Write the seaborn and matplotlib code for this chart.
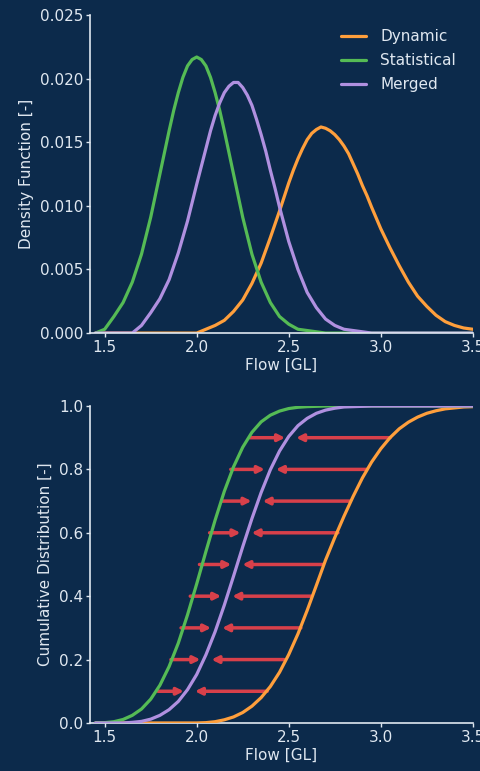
import numpy as np
import pandas as pd
import matplotlib
matplotlib.use("Agg")
import matplotlib.pyplot as plt
import seaborn as sns

# Density curves (finer steps around the peaks)
flow_dynamic = [1.45, 2.00, 2.05, 2.10, 2.15, 2.20, 2.25, 2.30, 2.35, 2.40,
                2.45, 2.475, 2.50, 2.525, 2.55, 2.575, 2.60, 2.625, 2.65, 2.675,
                2.70, 2.725, 2.75, 2.775, 2.80, 2.825, 2.85, 2.875, 2.90, 2.925,
                2.95, 3.00, 3.05, 3.10, 3.15, 3.20, 3.25, 3.30, 3.35, 3.40,
                3.45, 3.50]
pdf_dynamic = [0, 0, 0.0003, 0.0006, 0.0010, 0.0017, 0.0026, 0.0039, 0.0055, 0.0075,
               0.0096, 0.0107, 0.0118, 0.0128, 0.0137, 0.0145, 0.0152, 0.0157, 0.0160, 0.0162,
               0.0161, 0.0159, 0.0156, 0.0152, 0.0147, 0.0141, 0.0133, 0.0125, 0.0116, 0.0108,
               0.0099, 0.0082, 0.0067, 0.0053, 0.0040, 0.0029, 0.0021, 0.0014, 0.0009, 0.0006,
               0.0004, 0.0003]

flow_statistical = [1.45, 1.50, 1.55, 1.60, 1.65, 1.70, 1.75, 1.80, 1.825, 1.85,
                    1.875, 1.90, 1.925, 1.95, 1.975, 2.00, 2.025, 2.05, 2.075, 2.10,
                    2.125, 2.15, 2.175, 2.20, 2.25, 2.30, 2.35, 2.40, 2.45, 2.50,
                    2.55, 2.60, 2.65, 2.70, 2.80, 3.00, 3.50]
pdf_statistical = [0.0000, 0.0003, 0.0013, 0.0024, 0.0040, 0.0062, 0.0091, 0.0125, 0.0142, 0.0159,
                   0.0175, 0.0189, 0.0201, 0.0210, 0.0215, 0.0217, 0.0215, 0.0210, 0.0201, 0.0189,
                   0.0175, 0.0159, 0.0142, 0.0125, 0.0091, 0.0062, 0.0040, 0.0024, 0.0013, 0.0007,
                   0.0003, 0.0002, 0.0001, 0.0000, 0, 0, 0]

flow_merged = [1.45, 1.65, 1.70, 1.75, 1.80, 1.85, 1.90, 1.95, 2.00, 2.025,
               2.05, 2.075, 2.10, 2.125, 2.15, 2.175, 2.20, 2.225, 2.25, 2.275,
               2.30, 2.325, 2.35, 2.375, 2.40, 2.425, 2.45, 2.50, 2.55, 2.60,
               2.65, 2.70, 2.75, 2.80, 2.85, 2.90, 2.95, 3.00, 3.50]
pdf_merged = [0, 0, 0.0006, 0.0016, 0.0027, 0.0042, 0.0063, 0.0088, 0.0117, 0.0131,
              0.0145, 0.0159, 0.0171, 0.0181, 0.0189, 0.0194, 0.0197, 0.0197, 0.0193, 0.0187,
              0.0179, 0.0168, 0.0156, 0.0143, 0.0128, 0.0114, 0.0099, 0.0072, 0.0050, 0.0032,
              0.0020, 0.0011, 0.0006, 0.0003, 0.0002, 0.0001, 0.0000, 0, 0]

# Cumulative curves on a common grid
flow = [1.45, 1.50, 1.55, 1.60, 1.65, 1.70, 1.75, 1.80, 1.85, 1.90,
        1.95, 2.00, 2.05, 2.10, 2.15, 2.20, 2.25, 2.30, 2.35, 2.40,
        2.45, 2.50, 2.55, 2.60, 2.65, 2.70, 2.75, 2.80, 2.85, 2.90,
        2.95, 3.00, 3.05, 3.10, 3.15, 3.20, 3.25, 3.30, 3.35, 3.40,
        3.45, 3.50]
cdf_dynamic = [0, 0, 0, 0, 0, 0, 0, 0, 0, 0,
               0, 0.000, 0.001, 0.004, 0.010, 0.019, 0.033, 0.053, 0.080, 0.115,
               0.160, 0.216, 0.281, 0.355, 0.434, 0.514, 0.585, 0.652, 0.715, 0.773,
               0.823, 0.865, 0.900, 0.928, 0.949, 0.965, 0.977, 0.985, 0.991, 0.994,
               0.997, 0.998]
cdf_statistical = [0.000, 0.001, 0.004, 0.011, 0.024, 0.044, 0.075, 0.119, 0.178, 0.252,
                   0.341, 0.439, 0.541, 0.640, 0.731, 0.808, 0.870, 0.917, 0.950, 0.971,
                   0.984, 0.992, 0.996, 0.998, 0.999, 1.0, 1.0, 1.0, 1.0, 1.0,
                   1.0, 1.0, 1.0, 1.0, 1.0, 1.0, 1.0, 1.0, 1.0, 1.0,
                   1.0, 1.0]
cdf_merged = [0, 0, 0, 0, 0.002, 0.005, 0.012, 0.024, 0.042, 0.068,
              0.105, 0.153, 0.215, 0.288, 0.372, 0.463, 0.556, 0.645, 0.727, 0.799,
              0.858, 0.904, 0.938, 0.961, 0.977, 0.987, 0.993, 0.997, 0.998, 0.999,
              1.0, 1.0, 1.0, 1.0, 1.0, 1.0, 1.0, 1.0, 1.0, 1.0,
              1.0, 1.0]

# quantile arrows: from statistical and dynamic towards merged
levels = [0.1, 0.2, 0.3, 0.4, 0.5, 0.6, 0.7, 0.8, 0.9]
q_statistical = [1.79, 1.86, 1.915, 1.965, 2.015, 2.07, 2.135, 2.185, 2.29]
q_merged = [1.96, 2.05, 2.108, 2.163, 2.218, 2.268, 2.328, 2.40, 2.51]
q_dynamic = [2.383, 2.474, 2.566, 2.621, 2.685, 2.767, 2.831, 2.923, 3.051]

series = ["Dynamic", "Statistical", "Merged"]
colors = {"Dynamic": "#ff9f3c", "Statistical": "#55bb55", "Merged": "#b090e0"}

bg = "#0c2a4b"
fg = "#dfe7f0"

pdf_df = pd.concat([
    pd.DataFrame({"Flow": flow_dynamic, "value": pdf_dynamic, "Series": "Dynamic"}),
    pd.DataFrame({"Flow": flow_statistical, "value": pdf_statistical, "Series": "Statistical"}),
    pd.DataFrame({"Flow": flow_merged, "value": pdf_merged, "Series": "Merged"}),
], ignore_index=True)
cdf_df = pd.DataFrame({"Flow": flow * 3,
                       "value": cdf_dynamic + cdf_statistical + cdf_merged,
                       "Series": sum([[s] * len(flow) for s in series], [])})

sns.set_style("ticks", {"axes.facecolor": bg, "figure.facecolor": bg,
                        "axes.edgecolor": fg, "xtick.color": fg, "ytick.color": fg,
                        "text.color": fg, "axes.labelcolor": fg})
plt.rcParams["font.family"] = ["DejaVu Sans"]
plt.rcParams["font.size"] = 11

fig = plt.figure(figsize=(4.81, 7.71), dpi=100)
ax1 = fig.add_axes([0.187, 0.568, 0.796, 0.4125])
ax2 = fig.add_axes([0.187, 0.0623, 0.796, 0.4111])

sns.lineplot(data=pdf_df, x="Flow", y="value", hue="Series", hue_order=series,
             palette=colors, linewidth=2.3, ax=ax1)
ax1.set_xlim(1.42, 3.5)
ax1.set_ylim(0, 0.025)
ax1.set_xticks([1.5, 2.0, 2.5, 3.0, 3.5])
ax1.set_yticks([0, 0.005, 0.010, 0.015, 0.020, 0.025])
ax1.yaxis.set_major_formatter(plt.FormatStrFormatter("%.3f"))
ax1.set_xlabel("Flow [GL]", labelpad=2)
ax1.set_ylabel("Density Function [-]")
leg = ax1.legend(loc="upper right", bbox_to_anchor=(0.98, 0.985), frameon=False,
                 fontsize=11, handlelength=1.7, handletextpad=0.9,
                 labelspacing=0.6, borderaxespad=0.2)
for t in leg.get_texts():
    t.set_color(fg)

# arrows first so the curves sit on top
gap = 0.03
for lv, qs, qm, qd in zip(levels, q_statistical, q_merged, q_dynamic):
    for start, end in [(qs, qm - gap), (qd, qm + gap)]:
        ax2.annotate("", xy=(end, lv), xytext=(start, lv),
                     arrowprops=dict(arrowstyle="-|>", color="#d8404a", lw=2.5,
                                     mutation_scale=10, shrinkA=0, shrinkB=0),
                     zorder=1)

sns.lineplot(data=cdf_df, x="Flow", y="value", hue="Series", hue_order=series,
             palette=colors, linewidth=2.3, ax=ax2, legend=False, zorder=3)
ax2.set_xlim(1.42, 3.5)
ax2.set_ylim(0, 1.0)
ax2.set_xticks([1.5, 2.0, 2.5, 3.0, 3.5])
ax2.set_yticks([0, 0.2, 0.4, 0.6, 0.8, 1.0])
ax2.yaxis.set_major_formatter(plt.FormatStrFormatter("%.1f"))
ax2.set_xlabel("Flow [GL]", labelpad=2)
ax2.set_ylabel("Cumulative Distribution [-]")

for ax in (ax1, ax2):
    sns.despine(ax=ax)
    ax.tick_params(labelsize=11, length=3, width=1, pad=2)
    ax.spines["left"].set_linewidth(1.2)
    ax.spines["bottom"].set_linewidth(1.2)

fig.savefig("out.png", dpi=100, facecolor=bg)
